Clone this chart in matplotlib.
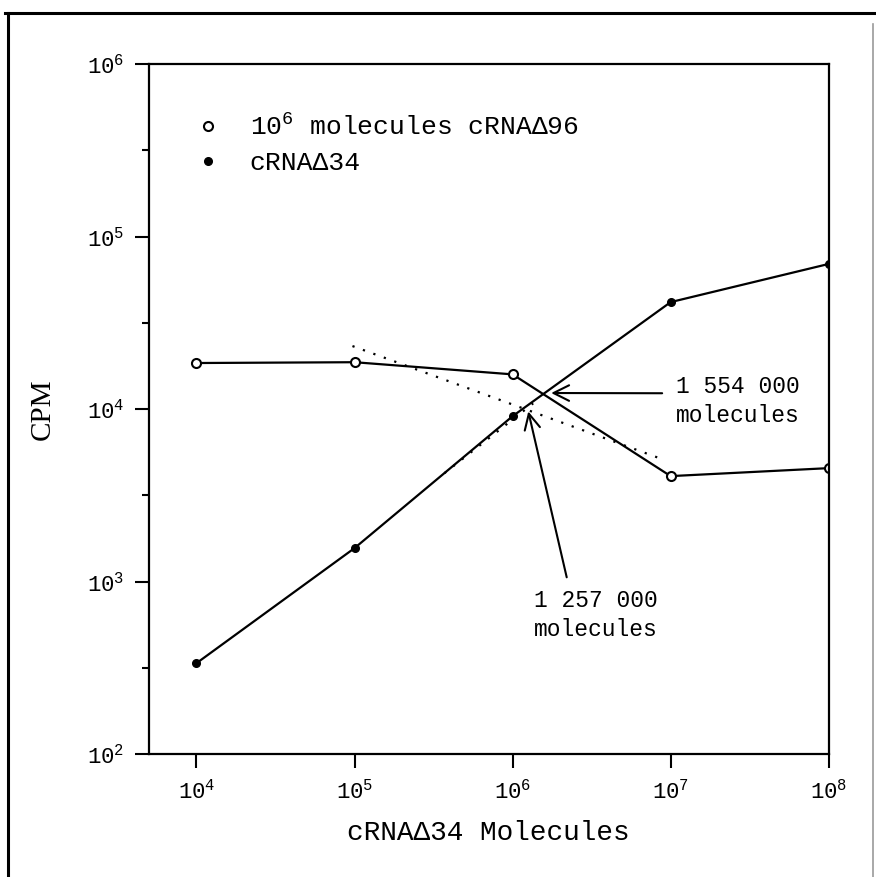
import math
import matplotlib
matplotlib.use('Agg')
import matplotlib.pyplot as plt
from matplotlib.lines import Line2D
from matplotlib.ticker import FixedLocator, FuncFormatter, NullFormatter

mono = 'Liberation Mono'
plt.rcParams['font.family'] = [mono, 'DejaVu Sans']
plt.rcParams['mathtext.fontset'] = 'custom'
plt.rcParams['mathtext.rm'] = mono
plt.rcParams['mathtext.it'] = mono

# cRNA delta34 molecules added
molecules = [1e4, 1e5, 1e6, 1e7, 1e8]
# CPM, 10^6 molecules cRNA delta96 (open circles)
cpm_d96 = [18500, 18700, 15900, 4090, 4550]
# CPM, cRNA delta34 (filled dots)
cpm_d34 = [337, 1565, 9100, 41700, 69400]

# dotted fit lines
fit96_x = [0.97e5, 9.2e6]
fit96_y = [23200, 5060]
fit34_x = [3.7e5, 1.35e6]
fit34_y = [4250, 10800]

# crossing points marked with arrows
cross_hi = (1.554e6, 12400)
cross_lo = (1.257e6, 9700)
cross_lo_tail = (2.2e6, 1060)

fig = plt.figure(figsize=(8.76, 8.77), dpi=100)
ax = fig.add_axes([0.170, 0.140, 0.776, 0.787])

ax.plot(molecules, cpm_d96, color='black', lw=1.6, marker='o', ms=6.5,
        mfc='white', mec='black', mew=1.5)
ax.plot(molecules, cpm_d34, color='black', lw=1.6, marker='o', ms=5.5,
        mfc='black', mec='black')
ax.plot(fit96_x, fit96_y, color='black', lw=1.6, ls=(0, (1, 4)))
ax.plot(fit34_x, fit34_y, color='black', lw=1.6, ls=(0, (1, 4)))

ax.set_xscale('log')
ax.set_yscale('log')
ax.set_xlim(5e3, 1e8)
ax.set_ylim(1e2, 1e6)

ax.xaxis.set_major_locator(FixedLocator(molecules))
ax.xaxis.set_minor_locator(FixedLocator([]))
ax.yaxis.set_major_locator(FixedLocator([1e2, 1e3, 1e4, 1e5, 1e6]))
ax.yaxis.set_minor_locator(FixedLocator([10 ** 2.5, 10 ** 3.5, 10 ** 4.5, 10 ** 5.5]))
ax.yaxis.set_minor_formatter(NullFormatter())

fmt = FuncFormatter(lambda v, p: r'$\mathregular{10^{%d}}$' % round(math.log10(v)))
ax.xaxis.set_major_formatter(fmt)
ax.yaxis.set_major_formatter(fmt)
ax.tick_params(which='major', direction='out', length=10, width=1.5, labelsize=16, pad=8)
ax.tick_params(which='minor', direction='out', length=5, width=1.5)
ax.tick_params(top=False, right=False)
for s in ax.spines.values():
    s.set_linewidth(1.6)

ax.set_xlabel('cRNAΔ34 Molecules', fontsize=20, labelpad=12)
ax.set_ylabel('CPM', fontsize=21, family='Liberation Serif', labelpad=22)

# legend shows markers only
handles = [
    Line2D([], [], ls='none', marker='o', ms=6.5, mfc='white', mec='black', mew=1.5),
    Line2D([], [], ls='none', marker='o', ms=5.5, mfc='black', mec='black'),
]
labels = [r'$\mathregular{10^{6}}$ molecules cRNAΔ96', 'cRNAΔ34']
ax.legend(handles, labels, loc='upper left', bbox_to_anchor=(0.032, 0.962),
          frameon=False, prop={'size': 19}, handlelength=1.0,
          handletextpad=1.1, labelspacing=0.42)

# arrows to the crossing points
ax.annotate('', xy=cross_hi, xytext=(0.755, 0.523), textcoords='axes fraction',
            arrowprops=dict(arrowstyle='->', lw=1.5, color='black',
                            mutation_scale=28, shrinkA=0, shrinkB=6))
ax.annotate('', xy=cross_lo, xytext=cross_lo_tail,
            arrowprops=dict(arrowstyle='->', lw=1.5, color='black',
                            mutation_scale=28, shrinkA=0, shrinkB=0))
ax.text(0.775, 0.512, '1 554 000\nmolecules', transform=ax.transAxes,
        ha='left', va='center', multialignment='center',
        fontsize=16.5, linespacing=1.35)
ax.text(0.657, 0.202, '1 257 000\nmolecules', transform=ax.transAxes,
        ha='center', va='center', multialignment='center',
        fontsize=16.5, linespacing=1.35)

# scanned page frame
fig.add_artist(Line2D([0.006, 1.0], [0.985, 0.985], color='black', lw=2.2,
                      transform=fig.transFigure))
fig.add_artist(Line2D([0.009, 0.009], [0.0, 0.985], color='black', lw=2.2,
                      transform=fig.transFigure))
fig.add_artist(Line2D([0.9966, 0.9966], [0.0, 0.973], color='#9a9a9a', lw=1.2,
                      transform=fig.transFigure))

fig.savefig('out.png', dpi=100)
